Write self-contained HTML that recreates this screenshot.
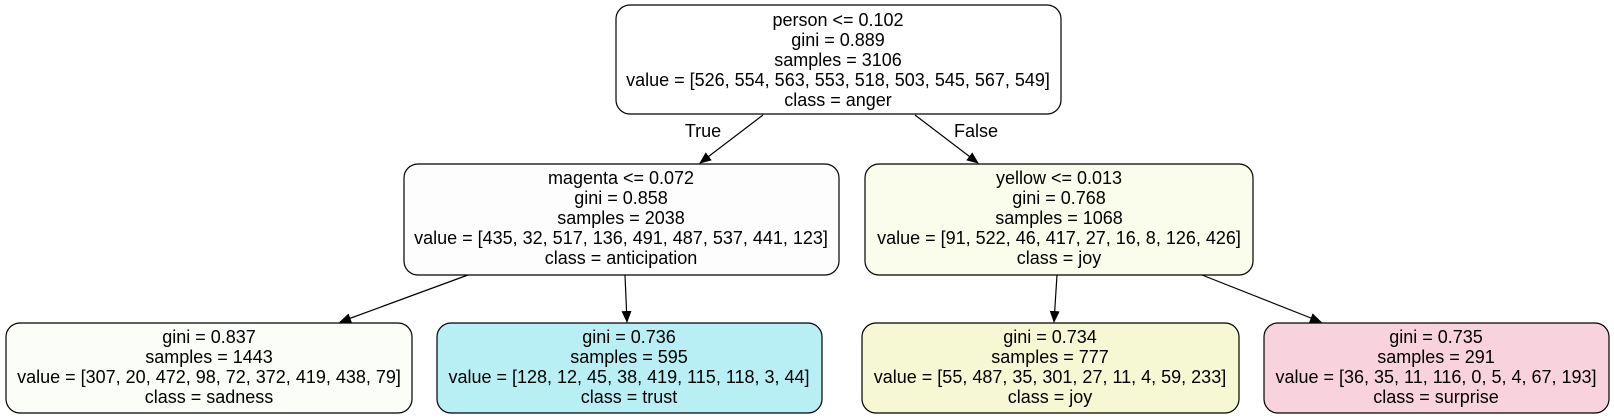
<!DOCTYPE html>
<html><head><meta charset="utf-8"><style>
html,body{margin:0;padding:0;background:#fff;}
svg{display:block;}
text{font-family:"Liberation Sans",Arial,sans-serif;font-size:18px;fill:#000;}
</style></head><body>
<svg width="1614" height="419" viewBox="0 0 1614 419">
<defs><marker id="ah" markerWidth="12" markerHeight="10" refX="11" refY="5" orient="auto" markerUnits="userSpaceOnUse"><path d="M0,0 L12,5 L0,10 z" fill="#000"/></marker></defs>
<g stroke="#000" stroke-width="1.2" fill="none">
<line x1="763" y1="115" x2="700" y2="163" marker-end="url(#ah)"/>
<line x1="915" y1="115" x2="978" y2="163" marker-end="url(#ah)"/>
<line x1="468" y1="275" x2="340" y2="322" marker-end="url(#ah)"/>
<line x1="625" y1="275" x2="627" y2="322" marker-end="url(#ah)"/>
<line x1="1057" y1="275" x2="1054" y2="322" marker-end="url(#ah)"/>
<line x1="1202" y1="275" x2="1321" y2="322" marker-end="url(#ah)"/>
</g>
<text x="703" y="137" text-anchor="middle">True</text>
<text x="976" y="137" text-anchor="middle">False</text>

<g>
<rect x="616" y="5" width="445" height="109" rx="14" fill="#ffffff" stroke="#000" stroke-width="1.2"/>
<text x="838" y="26" text-anchor="middle">person &lt;= 0.102</text>
<text x="838" y="46" text-anchor="middle">gini = 0.889</text>
<text x="838" y="66" text-anchor="middle">samples = 3106</text>
<text x="838" y="86" text-anchor="middle">value = [526, 554, 563, 553, 518, 503, 545, 567, 549]</text>
<text x="838" y="106" text-anchor="middle">class = anger</text>
</g>
<g>
<rect x="404" y="164" width="435" height="111" rx="14" fill="#fdfdfd" stroke="#000" stroke-width="1.2"/>
<text x="621" y="184" text-anchor="middle">magenta &lt;= 0.072</text>
<text x="621" y="204" text-anchor="middle">gini = 0.858</text>
<text x="621" y="224" text-anchor="middle">samples = 2038</text>
<text x="621" y="244" text-anchor="middle">value = [435, 32, 517, 136, 491, 487, 537, 441, 123]</text>
<text x="621" y="264" text-anchor="middle">class = anticipation</text>
</g>
<g>
<rect x="865" y="164" width="388" height="111" rx="14" fill="#fafcec" stroke="#000" stroke-width="1.2"/>
<text x="1059" y="184" text-anchor="middle">yellow &lt;= 0.013</text>
<text x="1059" y="204" text-anchor="middle">gini = 0.768</text>
<text x="1059" y="224" text-anchor="middle">samples = 1068</text>
<text x="1059" y="244" text-anchor="middle">value = [91, 522, 46, 417, 27, 16, 8, 126, 426]</text>
<text x="1059" y="264" text-anchor="middle">class = joy</text>
</g>
<g>
<rect x="6" y="323" width="406" height="90" rx="14" fill="#fbfdf9" stroke="#000" stroke-width="1.2"/>
<text x="209" y="343" text-anchor="middle">gini = 0.837</text>
<text x="209" y="363" text-anchor="middle">samples = 1443</text>
<text x="209" y="383" text-anchor="middle">value = [307, 20, 472, 98, 72, 372, 419, 438, 79]</text>
<text x="209" y="403" text-anchor="middle">class = sadness</text>
</g>
<g>
<rect x="437" y="323" width="385" height="90" rx="14" fill="#b7eff4" stroke="#000" stroke-width="1.2"/>
<text x="629" y="343" text-anchor="middle">gini = 0.736</text>
<text x="629" y="363" text-anchor="middle">samples = 595</text>
<text x="629" y="383" text-anchor="middle">value = [128, 12, 45, 38, 419, 115, 118, 3, 44]</text>
<text x="629" y="403" text-anchor="middle">class = trust</text>
</g>
<g>
<rect x="862" y="323" width="377" height="90" rx="14" fill="#f6f7d3" stroke="#000" stroke-width="1.2"/>
<text x="1050" y="343" text-anchor="middle">gini = 0.734</text>
<text x="1050" y="363" text-anchor="middle">samples = 777</text>
<text x="1050" y="383" text-anchor="middle">value = [55, 487, 35, 301, 27, 11, 4, 59, 233]</text>
<text x="1050" y="403" text-anchor="middle">class = joy</text>
</g>
<g>
<rect x="1264" y="323" width="345" height="90" rx="14" fill="#f8d3dd" stroke="#000" stroke-width="1.2"/>
<text x="1436" y="343" text-anchor="middle">gini = 0.735</text>
<text x="1436" y="363" text-anchor="middle">samples = 291</text>
<text x="1436" y="383" text-anchor="middle">value = [36, 35, 11, 116, 0, 5, 4, 67, 193]</text>
<text x="1436" y="403" text-anchor="middle">class = surprise</text>
</g>
</svg>
</body></html>
